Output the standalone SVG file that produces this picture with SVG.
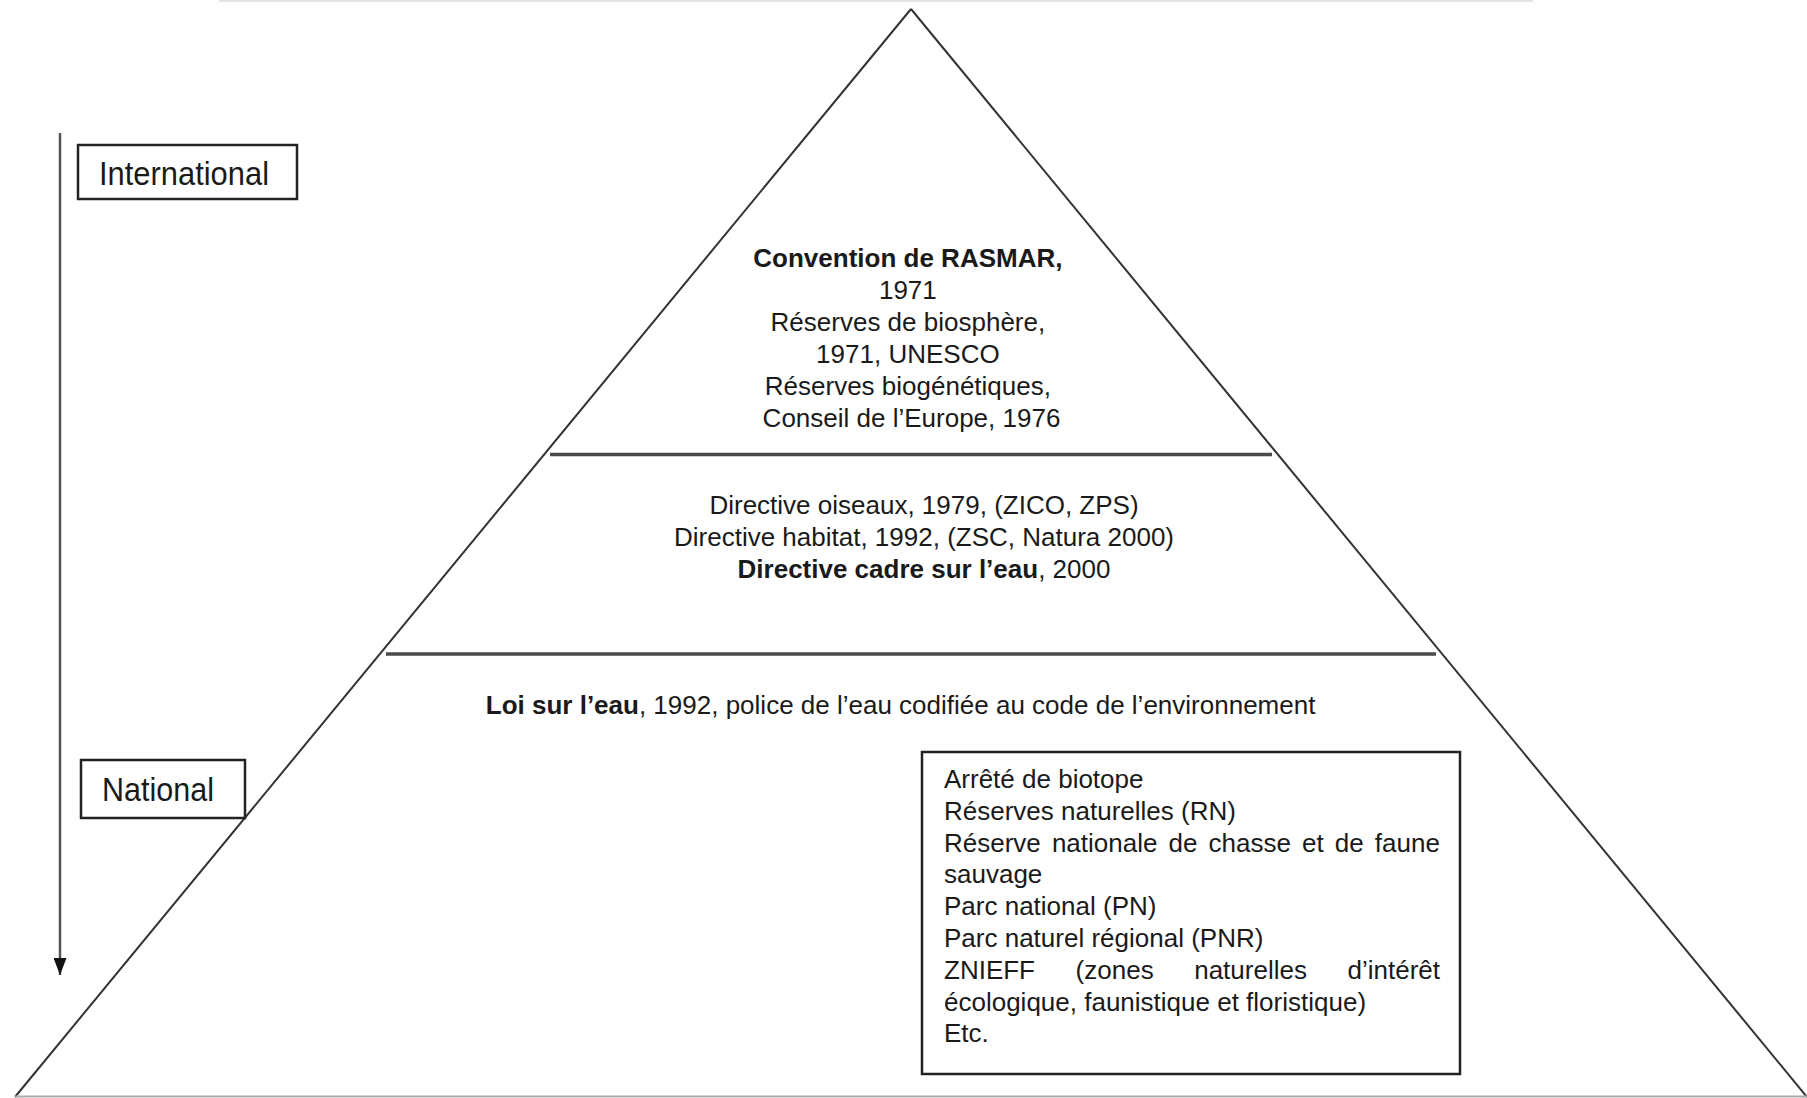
<svg xmlns="http://www.w3.org/2000/svg" width="1807" height="1098" viewBox="0 0 1807 1098">
  <defs>
    <style>
      text { font-family: "Liberation Sans", Arial, sans-serif; fill: #1a1a1a; }
      .body { font-size: 26px; }
      .c { text-anchor: middle; }
      .b { font-weight: bold; }
      .lbl { font-size: 33px; }
      .edge { stroke: #333; stroke-width: 2; fill: none; }
      .div { stroke: #4a4a4a; stroke-width: 3.5; fill: none; }
      .box { fill: #fff; stroke: #222; stroke-width: 2.5; }
    </style>
    <marker id="arrowhead" markerWidth="17" markerHeight="13" refX="17" refY="6.5" orient="auto" markerUnits="userSpaceOnUse" viewBox="0 0 17 13">
      <path d="M0,0 L17,6.5 L0,13 Z" fill="#111"/>
    </marker>
  </defs>
  <rect width="1807" height="1098" fill="#fff"/>
  <line x1="219" y1="1" x2="1533" y2="1" stroke="#e4e4e4" stroke-width="2"/>

  <g id="pyramid">
    <line class="edge" x1="911" y1="9" x2="15" y2="1097"/>
    <line class="edge" x1="911" y1="9" x2="1807" y2="1097"/>
    <line x1="15" y1="1096.5" x2="1807" y2="1096.5" stroke="#aaa" stroke-width="2"/>
    <line class="div" x1="550" y1="454.5" x2="1272" y2="454.5"/>
    <line class="div" x1="386" y1="654" x2="1436" y2="654"/>
  </g>

  <g id="connectors">
    <line x1="60" y1="133" x2="60" y2="975" stroke="#555" stroke-width="2.5" marker-end="url(#arrowhead)"/>
  </g>

  <g id="level-international">
    <text class="body c" x="911.5">
      <tspan class="b" x="911.5" y="267">Convention de RASMAR,</tspan>
      <tspan x="911.5" y="299">1971</tspan>
      <tspan x="911.5" y="331">Réserves de biosphère,</tspan>
      <tspan x="911.5" y="363">1971, UNESCO</tspan>
      <tspan x="911.5" y="395">Réserves biogénétiques,</tspan>
      <tspan x="911.5" y="427">Conseil de l’Europe, 1976</tspan>
    </text>
  </g>

  <g id="level-europe">
    <text class="body c" x="924" y="514">Directive oiseaux, 1979, (ZICO, ZPS)</text>
    <text class="body c" x="924" y="546">Directive habitat, 1992, (ZSC, Natura 2000)</text>
    <text class="body c" x="924" y="578"><tspan class="b">Directive cadre sur l’eau</tspan>, 2000</text>
  </g>

  <g id="level-national">
    <text class="body c" x="900.6" y="714"><tspan class="b">Loi sur l’eau</tspan>, 1992, police de l’eau codifiée au code de l’environnement</text>
  </g>

  <g id="national-tools">
    <rect class="box" x="922" y="752" width="538" height="322"/>
    <text class="body" x="944" y="788">Arrêté de biotope</text>
    <text class="body" x="944" y="819.8">Réserves naturelles (RN)</text>
    <text class="body" y="851.6"><tspan x="944">Réserve</tspan><tspan x="1051.9">nationale</tspan><tspan x="1168.5">de</tspan><tspan x="1208.5">chasse</tspan><tspan x="1302">et</tspan><tspan x="1334.8">de</tspan><tspan x="1374.8">faune</tspan></text>
    <text class="body" x="944" y="883.4">sauvage</text>
    <text class="body" x="944" y="915.2">Parc national (PN)</text>
    <text class="body" x="944" y="947">Parc naturel régional (PNR)</text>
    <text class="body" y="978.8"><tspan x="944">ZNIEFF</tspan><tspan x="1075.6">(zones</tspan><tspan x="1194.2">naturelles</tspan><tspan x="1347.5">d’intérêt</tspan></text>
    <text class="body" x="944" y="1010.6">écologique, faunistique et floristique)</text>
    <text class="body" x="944" y="1042.4">Etc.</text>
  </g>

  <g id="label-international">
    <rect class="box" x="78" y="145" width="219" height="54"/>
    <text class="lbl" x="99" y="185" textLength="170" lengthAdjust="spacingAndGlyphs">International</text>
  </g>

  <g id="label-national">
    <rect class="box" x="81" y="760" width="164" height="58"/>
    <text class="lbl" x="102" y="801" textLength="112" lengthAdjust="spacingAndGlyphs">National</text>
  </g>
</svg>
